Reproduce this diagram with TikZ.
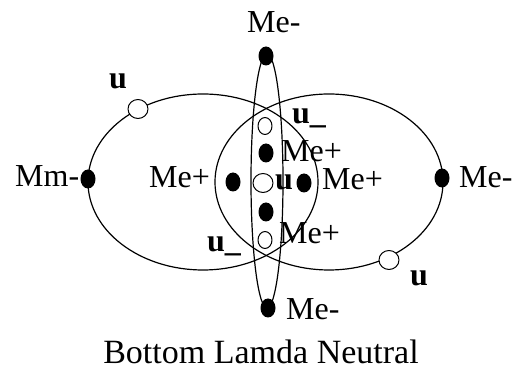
\documentclass[tikz,border=0pt]{standalone}
\usepackage{fontspec}
\setmainfont{Liberation Serif}
\usetikzlibrary{shapes.geometric}
\begin{document}
\begin{tikzpicture}[x=1pt, y=-1pt, line join=round]
  \useasboundingbox (0,0) rectangle (515,371);
  % Centros de las tres orbitas
  \coordinate (LeftC) at (203,182);
  \coordinate (RightC) at (329,182);
  \coordinate (MidC) at (267,181);

  % Estilos de orbitas, puntos y etiquetas
  \tikzset{
    orbit/.style={line width=1.2pt, color=black},
    fulldot/.style={ellipse, fill=black, inner sep=0pt, minimum width=15pt, minimum height=19pt},
    opendot/.style={ellipse, draw=black, fill=white, line width=1pt, inner sep=0pt, minimum width=14pt, minimum height=17pt},
    bigopen/.style={opendot, minimum width=20pt, minimum height=19pt},
    lbl/.style={anchor=base west, inner sep=0pt, font=\fontsize{32}{38}\selectfont},
    ulbl/.style={lbl, font=\fontsize{32}{38}\selectfont\bfseries}
  }

  % Dibujar orbitas
  \draw[orbit] (LeftC) ellipse [x radius=115pt, y radius=88pt]; % orbita izquierda
  \draw[orbit] (RightC) ellipse [x radius=114pt, y radius=88pt]; % orbita derecha
  \draw[orbit] (MidC) ellipse [x radius=16pt, y radius=127pt]; % orbita vertical

  % Puntos negros (Me y Mm)
  \node[fulldot] (Mm) at (88,179) {};
  \node[fulldot] (MeTop) at (266,56) {};
  \node[fulldot] (MeRight) at (442,178) {};
  \node[fulldot] (MeBottom) at (268,308) {};
  \node[fulldot] (MeLeftIn) at (233,182) {};
  \node[fulldot] (MeUpper) at (266,153) {};
  \node[fulldot] (MeRightIn) at (304,183) {};
  \node[fulldot] (MeLower) at (266,212) {};

  % Puntos blancos (u)
  \node[bigopen] (uLeft) at (138,109) {};
  \node[bigopen] (uRight) at (389,260) {};
  \node[bigopen] (uMid) at (263,183) {};
  \node[opendot] (uTop) at (265,126) {};
  \node[opendot] (uBot) at (265,240) {};

  % Etiquetas
  \node[lbl] (tMm) at (15,187) {Mm-};
  \node[lbl] (tMeTop) at (247,33) {Me-};
  \node[lbl] (tMeRight) at (459,188) {Me-};
  \node[lbl] (tMeBottom) at (286,320) {Me-};
  \node[lbl] (tMeLeftIn) at (149,188) {Me+};
  \node[lbl] (tMeUpper) at (281,162) {Me+};
  \node[lbl] (tMeRightIn) at (322,190) {Me+};
  \node[lbl] (tMeLower) at (279,244) {Me+};
  \node[ulbl] (tuLeft) at (109,89) {u};
  \node[ulbl] (tuRight) at (410,286) {u};
  \node[ulbl] (tuMid) at (275,190) {u};
  \node[ulbl] (tuTop) at (292,124) {u\_};
  \node[ulbl] (tuBot) at (207,252) {u\_};

  % Titulo
  \node[anchor=base, inner sep=0pt, font=\fontsize{34}{40}\selectfont] (caption) at (261,364) {Bottom Lamda Neutral};

\end{tikzpicture}
\end{document}
